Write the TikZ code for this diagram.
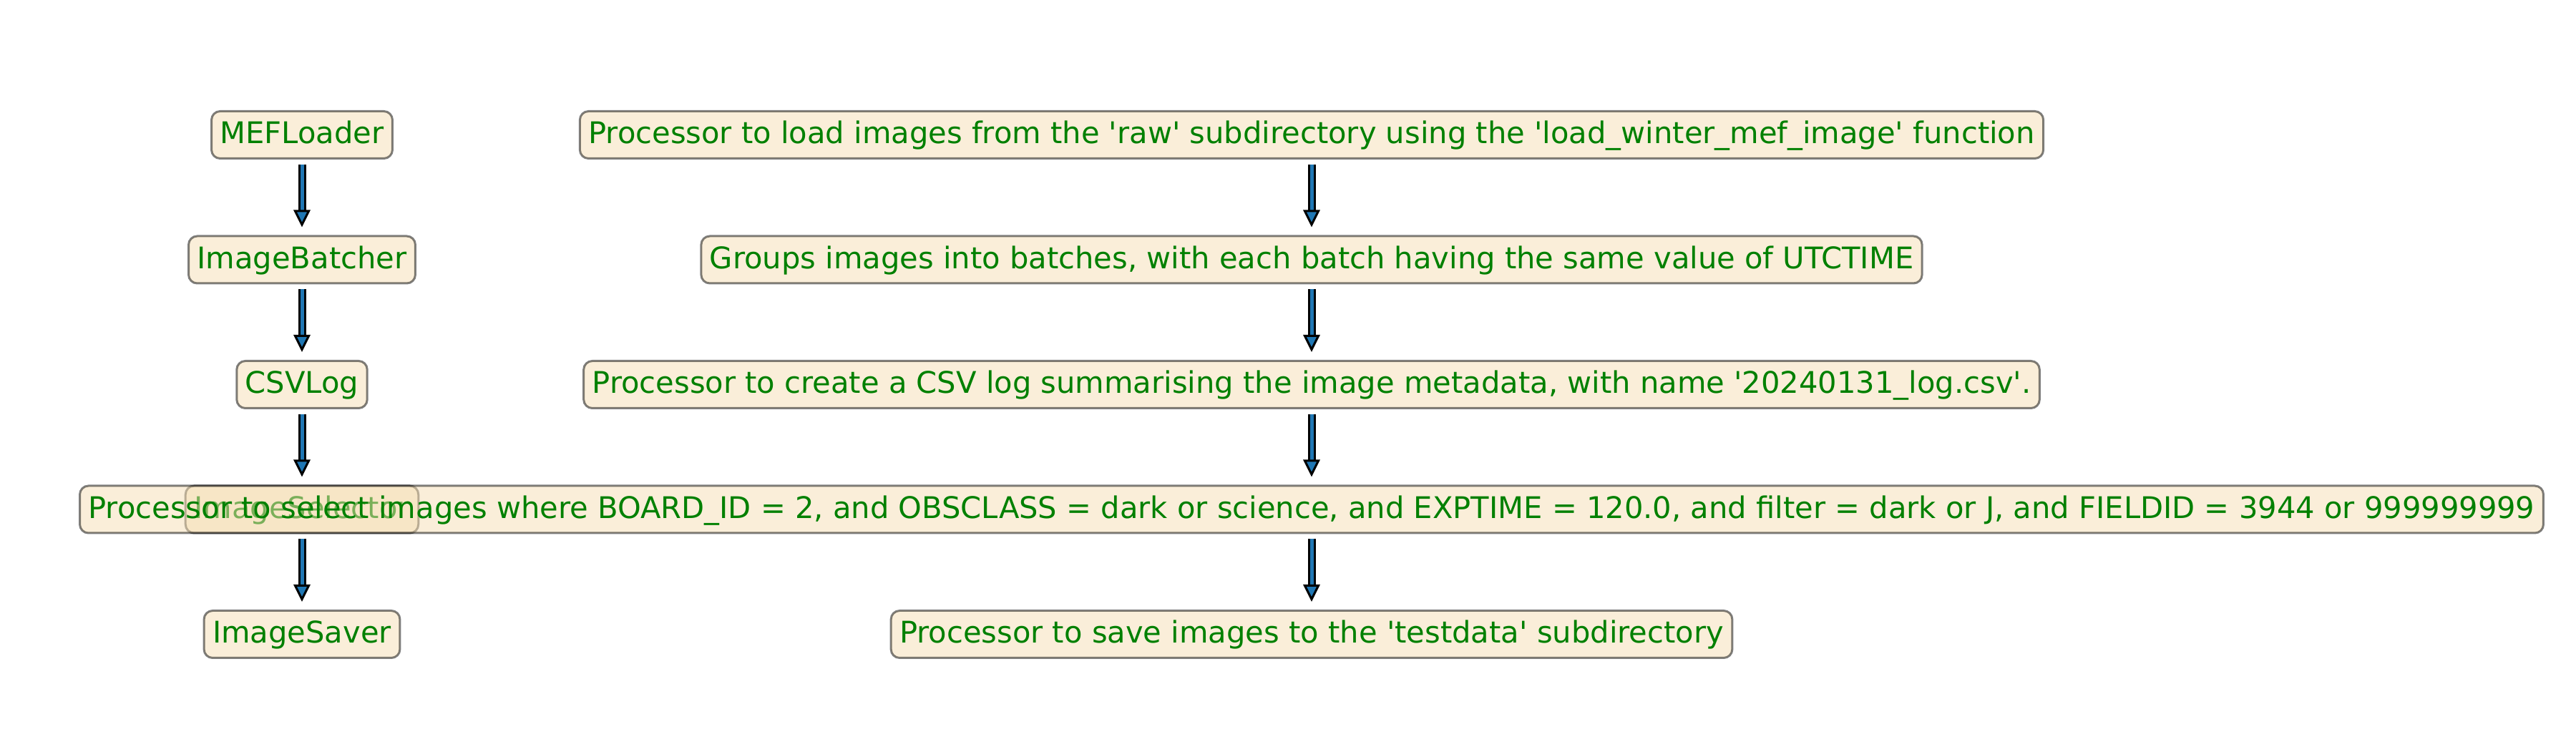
\documentclass[tikz,border=0pt]{standalone}
\usepackage{fontspec}
\setmainfont{DejaVu Sans}
\usepackage{xcolor}
\usepackage{tikz}
\usetikzlibrary{arrows.meta, positioning}

\definecolor{wheat}{RGB}{245,222,179}
\definecolor{mplgreen}{RGB}{0,128,0}
\definecolor{mplblue}{RGB}{31,119,180}
\newcommand{\sq}{\textquotesingle}

\begin{document}
\begin{tikzpicture}[
  node distance=1.055cm,
  box/.style={draw=black, draw opacity=0.5, fill=wheat, fill opacity=0.5,
              text opacity=1, text=mplgreen, rounded corners=1.2mm,
              line width=0.03cm, inner xsep=0.12cm, inner ysep=0.105cm,
              text height=0.347cm, text depth=0.103cm,
              font=\fontsize{11.85}{14}\selectfont},
  flow/.style={draw=black, line width=0.03cm, double=mplblue,
               double distance=0.05cm,
               -{Triangle[length=2.4mm, width=2.3mm, fill=mplblue]},
               shorten <=0.07cm, shorten >=0.11cm}]
  \useasboundingbox (0,0) rectangle (36,10.5);
  \coordinate (rcol) at (18.33,0);
  % processor names
  \node[box] (mef) at (4.22,8.615) {MEFLoader};
  \node[box, below=of mef] (batcher) {ImageBatcher};
  \node[box, below=of batcher] (csvlog) {CSVLog};
  \node[box, below=of csvlog] (selector) {ImageSelector};
  \node[box, below=of selector] (saver) {ImageSaver};
  % descriptions
  \node[box] (mefnote) at (rcol |- mef) {Processor to load images from the \sq raw\sq\ subdirectory using the \sq load\_winter\_mef\_image\sq\ function};
  \node[box] (batchernote) at (rcol |- batcher) {Groups images into batches, with each batch having the same value of UTCTIME};
  \node[box] (csvnote) at (rcol |- csvlog) {Processor to create a CSV log summarising the image metadata, with name \sq 20240131\_log.csv\sq.};
  \node[box] (selectornote) at (rcol |- selector) {Processor to select images where BOARD\_ID = 2, and OBSCLASS = dark or science, and EXPTIME = 120.0, and filter = dark or J, and FIELDID = 3944 or 999999999};
  \node[box] (savernote) at (rcol |- saver) {Processor to save images to the \sq testdata\sq\ subdirectory};
  \foreach \from/\to in {mef/batcher, batcher/csvlog, csvlog/selector, selector/saver,
      mefnote/batchernote, batchernote/csvnote, csvnote/selectornote, selectornote/savernote}
    \draw[flow] (\from) -- (\to);
\end{tikzpicture}
\end{document}
